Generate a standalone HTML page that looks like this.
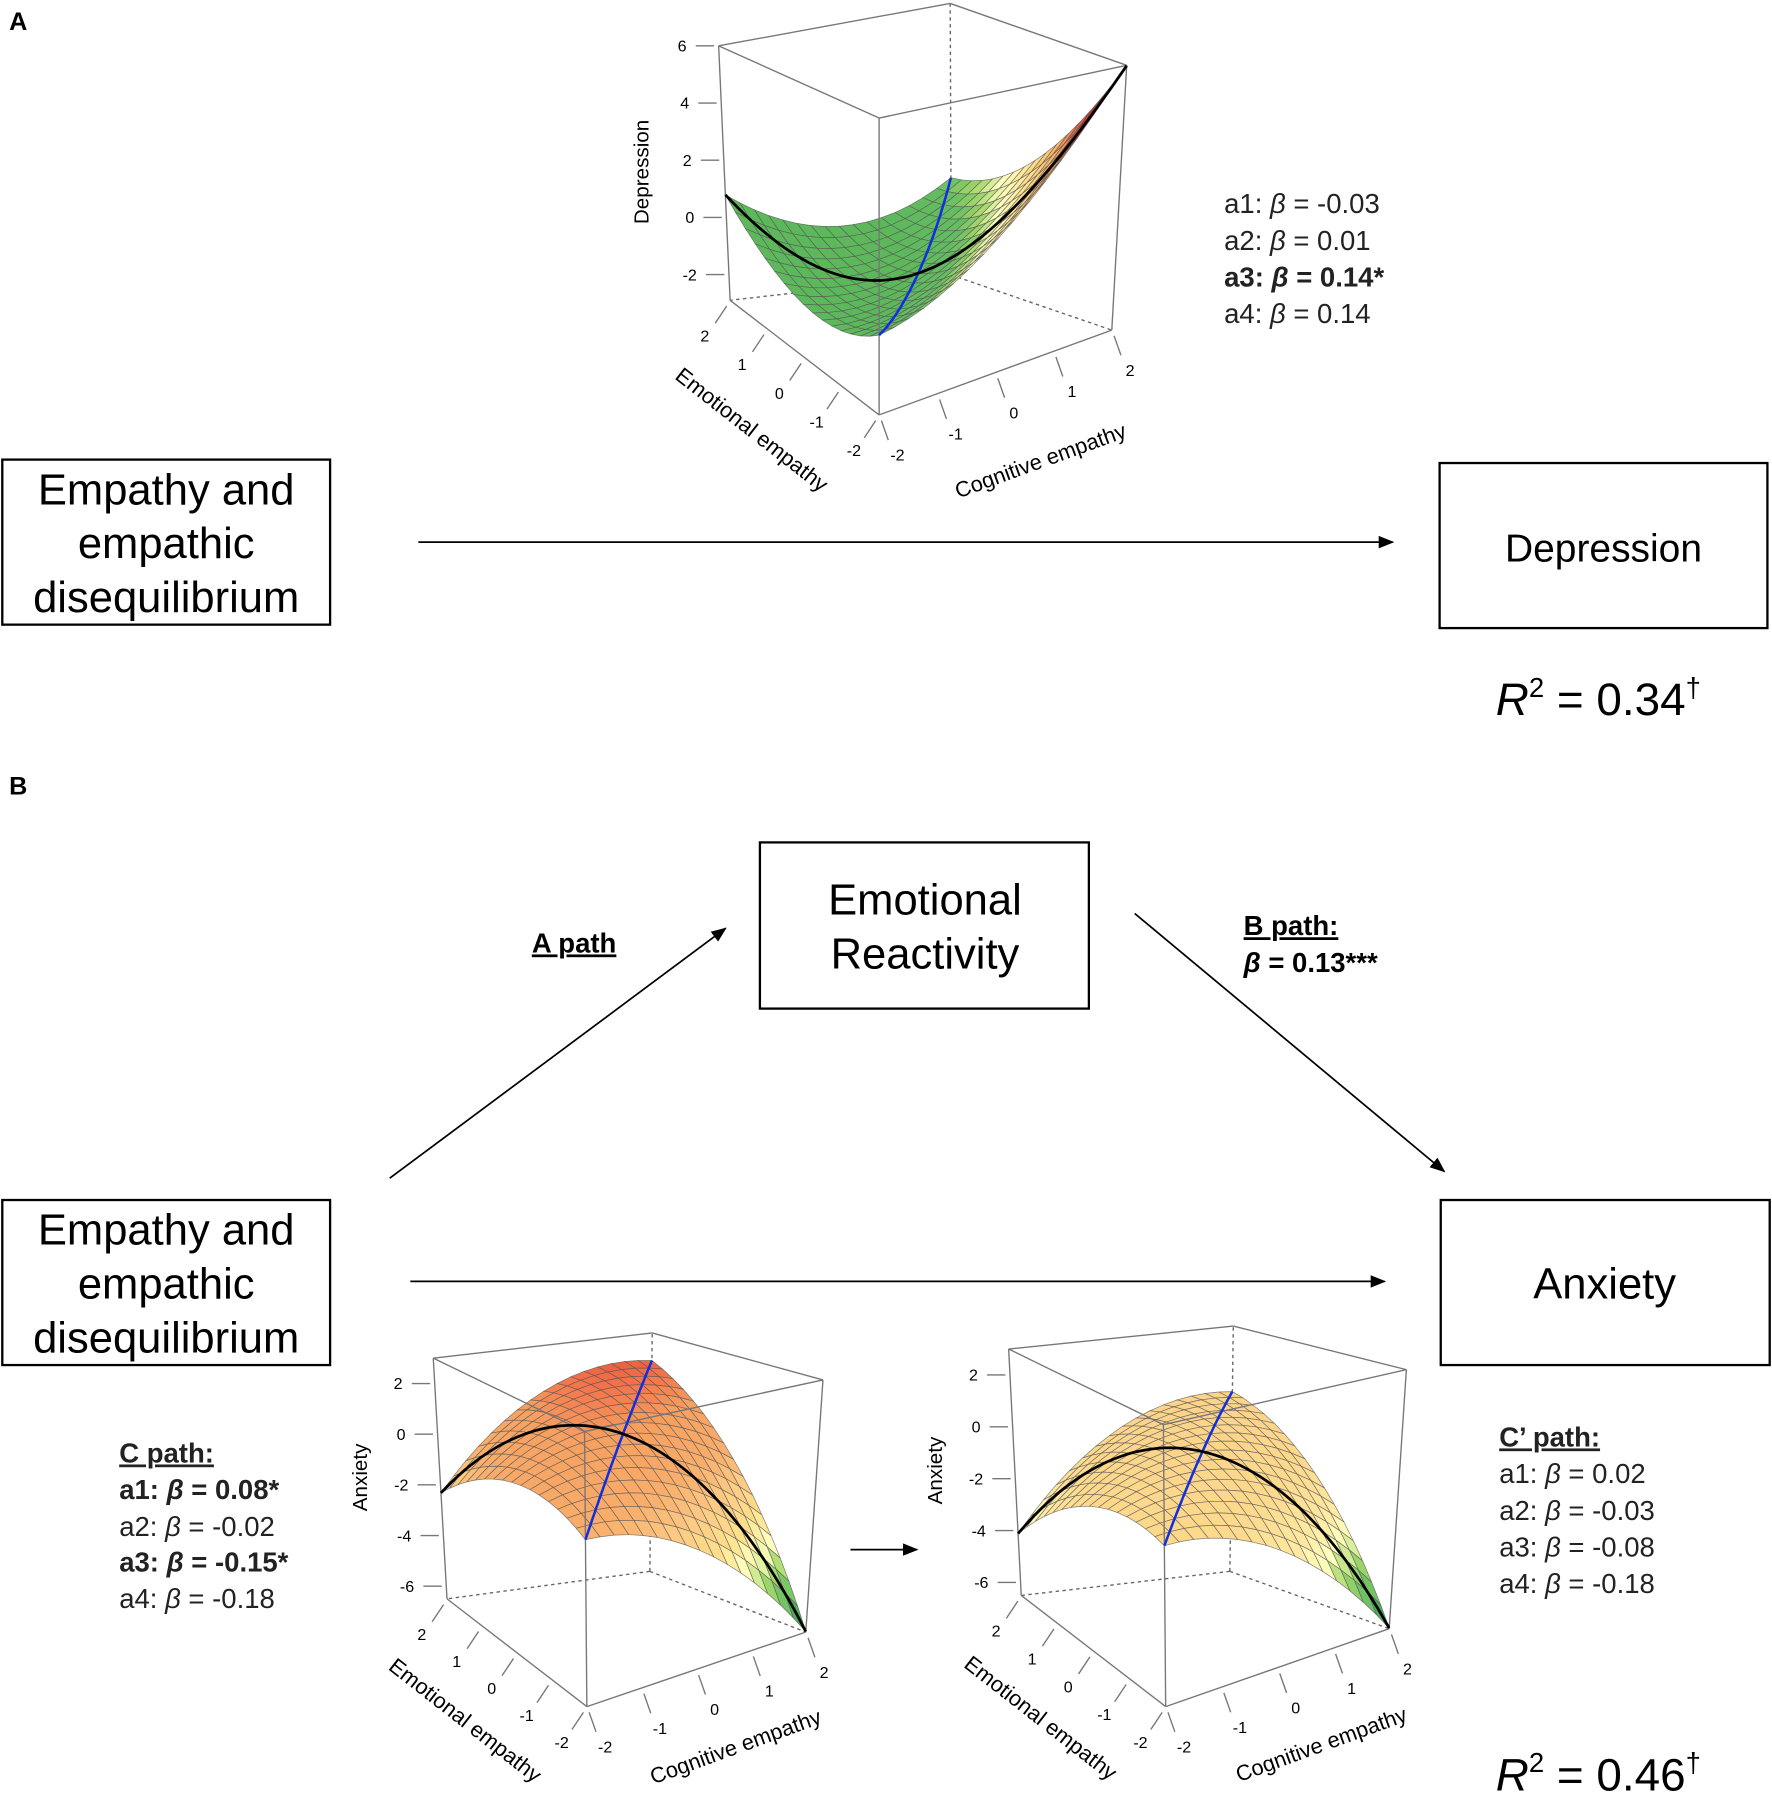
<!DOCTYPE html>
<html><head><meta charset="utf-8">
<style>
html,body{margin:0;padding:0;background:#fff;}
svg{display:block;font-family:"Liberation Sans",Arial,sans-serif;}
</style></head>
<body>
<svg id="fig" width="1772" height="1796" viewBox="0 0 1546 1567" preserveAspectRatio="none" xmlns="http://www.w3.org/2000/svg">
<defs>
<marker id="ah" viewBox="0 0 10 10" refX="9" refY="5" markerWidth="9" markerHeight="9" orient="auto"><path d="M0,1 L10,5 L0,9 z" fill="#000"/></marker>
</defs>
<g>
<text x="8" y="26" font-size="22" font-weight="bold">A</text>
<rect x="2" y="401" width="286" height="144" fill="none" stroke="#000" stroke-width="2"/>
<g font-size="38" text-anchor="middle">
<text x="145" y="440">Empathy and</text><text x="145" y="487">empathic</text><text x="145" y="534">disequilibrium</text></g>
<line x1="365" y1="473" x2="1215" y2="473" stroke="#000" stroke-width="1.5" marker-end="url(#ah)"/>
<rect x="1256" y="404" width="286" height="144" fill="none" stroke="#000" stroke-width="2"/>
<text x="1399" y="490" font-size="34" text-anchor="middle">Depression</text>
<text x="1305" y="624" font-size="40"><tspan font-style="italic">R</tspan><tspan font-size="24" dy="-16">2</tspan><tspan dy="16"> = 0.34</tspan><tspan font-size="24" dy="-16">†</tspan></text>
<g font-size="24" fill="#222">
<text x="1068" y="186">a1: <tspan font-style="italic">β</tspan> = -0.03</text>
<text x="1068" y="218">a2: <tspan font-style="italic">β</tspan> = 0.01</text>
<text x="1068" y="250" font-weight="bold">a3: <tspan font-style="italic">β</tspan> = 0.14*</text>
<text x="1068" y="282">a4: <tspan font-style="italic">β</tspan> = 0.14</text>
</g>
<g id="plotA"></g>
</g>
<g>
<text x="8" y="693" font-size="22" font-weight="bold">B</text>
<rect x="663" y="735" width="287" height="145" fill="none" stroke="#000" stroke-width="2"/>
<g font-size="38" text-anchor="middle">
<text x="807" y="798">Emotional</text><text x="807" y="845">Reactivity</text></g>
<text x="464" y="831" font-size="24" font-weight="bold" text-decoration="underline">A path</text>
<text x="1085" y="816" font-size="24" font-weight="bold" text-decoration="underline">B path:</text>
<text x="1085" y="848" font-size="24" font-weight="bold"><tspan font-style="italic">β</tspan> = 0.13***</text>
<line x1="340" y1="1028" x2="633" y2="810" stroke="#000" stroke-width="1.5" marker-end="url(#ah)"/>
<line x1="990" y1="797" x2="1260" y2="1022" stroke="#000" stroke-width="1.5" marker-end="url(#ah)"/>
<rect x="2" y="1047" width="286" height="144" fill="none" stroke="#000" stroke-width="2"/>
<g font-size="38" text-anchor="middle">
<text x="145" y="1086">Empathy and</text><text x="145" y="1133">empathic</text><text x="145" y="1180">disequilibrium</text></g>
<line x1="358" y1="1118" x2="1208" y2="1118" stroke="#000" stroke-width="1.5" marker-end="url(#ah)"/>
<rect x="1257" y="1047" width="287" height="144" fill="none" stroke="#000" stroke-width="2"/>
<text x="1400" y="1133" font-size="38" text-anchor="middle">Anxiety</text>
<g font-size="24" fill="#222">
<text x="104" y="1276" font-weight="bold" text-decoration="underline">C path:</text>
<text x="104" y="1308" font-weight="bold">a1: <tspan font-style="italic">β</tspan> = 0.08*</text>
<text x="104" y="1340">a2: <tspan font-style="italic">β</tspan> = -0.02</text>
<text x="104" y="1371" font-weight="bold">a3: <tspan font-style="italic">β</tspan> = -0.15*</text>
<text x="104" y="1403">a4: <tspan font-style="italic">β</tspan> = -0.18</text>
</g>
<g font-size="24" fill="#222">
<text x="1308" y="1262" font-weight="bold" text-decoration="underline">C’ path:</text>
<text x="1308" y="1294">a1: <tspan font-style="italic">β</tspan> = 0.02</text>
<text x="1308" y="1326">a2: <tspan font-style="italic">β</tspan> = -0.03</text>
<text x="1308" y="1358">a3: <tspan font-style="italic">β</tspan> =  -0.08</text>
<text x="1308" y="1390">a4: <tspan font-style="italic">β</tspan> = -0.18</text>
</g>
<line x1="742" y1="1352" x2="800" y2="1352" stroke="#000" stroke-width="1.5" marker-end="url(#ah)"/>
<text x="1305" y="1562" font-size="40"><tspan font-style="italic">R</tspan><tspan font-size="24" dy="-16">2</tspan><tspan dy="16"> = 0.46</tspan><tspan font-size="24" dy="-16">†</tspan></text>
<g id="plotB1"></g>
<g id="plotB2"></g>
</g>
</svg>
<script>
// axis tick values
const xyTicks = [-2, -1, 0, 1, 2];
const zTicksA = [-2, 0, 2, 4, 6];
const zTicksB = [-6, -4, -2, 0, 2];
// surface polynomial coefficients [b0, c, e, c^2, c*e, e^2]
const coefA = [-1.04, 0.75, -0.55, 0.34, -0.4375, 0.33];
const coefB1 = [0.8, -0.19, 0.85, -0.35, 0.623, -0.327];
const coefB2 = [-0.1, -0.1025, 0.4875, -0.35, 0.624, -0.326];
// colour stops: z value and colour
const stopsAz = [-1.5, 0, 0.8, 1.6, 2.8, 4.2, 6];
const stopsAc = ['#5cb85a', '#66bd63', '#a6d96a', '#ffffbf', '#fee08b', '#fdae61', '#d73027'];
const stopsB1z = [-6.5, -5.3, -4.3, -3.5, -2.6, -1.5, -0.5, 0.8, 1.6, 2.2];
const stopsB1c = ['#1a9850', '#66bd63', '#a6d96a', '#ffffbf', '#fee08b', '#fdc983', '#f9ad6a', '#f7a060', '#f4744a', '#e8553a'];
const stopsB2z = [-6.5, -5.3, -4.2, -3.5, -2.6, -1.2, 1];
const stopsB2c = ['#1a9850', '#66bd63', '#a6d96a', '#ffffbf', '#fee8a0', '#fdd98b', '#fdd28a'];

const NS = 'http://www.w3.org/2000/svg';
function mk(parent, tag, attrs) {
  const el = document.createElementNS(NS, tag);
  for (const k in attrs) el.setAttribute(k, attrs[k]);
  parent.appendChild(el);
  return el;
}
function hex(c){return [parseInt(c.slice(1,3),16),parseInt(c.slice(3,5),16),parseInt(c.slice(5,7),16)];}
function colorFor(z, zs, cs) {
  if (z <= zs[0]) return cs[0];
  for (let i = 1; i < zs.length; i++) {
    if (z <= zs[i]) {
      const t = (z - zs[i-1]) / (zs[i] - zs[i-1]);
      const a = hex(cs[i-1]), b = hex(cs[i]);
      return 'rgb(' + a.map((v, j) => Math.round(v + (b[j] - v) * t)).join(',') + ')';
    }
  }
  return cs[cs.length - 1];
}
function surf(co, c, e) { return co[0] + co[1]*c + co[2]*e + co[3]*c*c + co[4]*c*e + co[5]*e*e; }

function drawPlot(g, cfg) {
  const zr = cfg.zRange;
  function P(c, e, z) {
    const u = (c + 2) / 4, v = (e + 2) / 4, w = (z - zr[0]) / (zr[1] - zr[0]);
    const lerp = (a, b, t) => [a[0] + (b[0]-a[0])*t, a[1] + (b[1]-a[1])*t];
    const bot = lerp(lerp(cfg.bot[0], cfg.bot[1], u), lerp(cfg.bot[2], cfg.bot[3], u), v);
    const top = lerp(lerp(cfg.top[0], cfg.top[1], u), lerp(cfg.top[2], cfg.top[3], u), v);
    return lerp(bot, top, w);
  }
  const line = (p, q, extra, name) => {
    const l = mk(g, 'line', Object.assign({x1: p[0], y1: p[1], x2: q[0], y2: q[1], stroke: '#777', 'stroke-width': 1.2}, extra || {}));
    
    
    return l;
  };
  const z0 = zr[0], z1 = zr[1];
  const dash = {'stroke-dasharray': '3,3', stroke: '#666'};
  line(P(2,2,z0), P(2,2,z1), dash, 'back-vertical-edge');
  line(P(2,2,z0), P(-2,2,z0), dash, 'back-left-edge');
  line(P(2,2,z0), P(2,-2,z0), dash, 'back-right-edge');
  const N = 16, facets = [];
  for (let i = 0; i < N; i++) for (let j = 0; j < N; j++) {
    const c0 = -2 + 4*i/N, c1 = -2 + 4*(i+1)/N, e0 = -2 + 4*j/N, e1 = -2 + 4*(j+1)/N;
    facets.push({c0, c1, e0, e1, d: c0 + e0});
  }
  facets.sort((a, b) => b.d - a.d);
  for (const f of facets) {
    const pts = [[f.c0,f.e0],[f.c1,f.e0],[f.c1,f.e1],[f.c0,f.e1]].map(([c,e]) => P(c, e, surf(cfg.coef, c, e)));
    const cm = (f.c0+f.c1)/2, em = (f.e0+f.e1)/2;
    const zm = surf(cfg.coef, cm, em) + cfg.tilt * (cm - em);
    const poly = mk(g, 'polygon', {points: pts.map(p => p[0].toFixed(1)+','+p[1].toFixed(1)).join(' '), fill: colorFor(zm, cfg.stopsZ, cfg.stopsC), stroke: '#555', 'stroke-width': 0.6, 'stroke-opacity': 0.75});
    
    
  }
  const edges = [
    [[-2,-2,z0],[-2,-2,z1]], [[-2,2,z0],[-2,2,z1]], [[2,-2,z0],[2,-2,z1]],
    [[-2,-2,z0],[-2,2,z0]], [[-2,-2,z0],[2,-2,z0]],
    [[-2,-2,z1],[-2,2,z1]], [[-2,-2,z1],[2,-2,z1]], [[2,2,z1],[-2,2,z1]], [[2,2,z1],[2,-2,z1]]
  ];
  edges.forEach(ed => line(P(...ed[0]), P(...ed[1]), {}, 'box-edge'));
  const M = 60;
  let blue = '', black = '';
  for (let k = 0; k <= M; k++) {
    const t = -2 + 4*k/M;
    const pb = P(t, t, surf(cfg.coef, t, t));
    const pk = P(t, -t, surf(cfg.coef, t, -t));
    blue += (k ? 'L' : 'M') + pb[0].toFixed(1) + ',' + pb[1].toFixed(1);
    black += (k ? 'L' : 'M') + pk[0].toFixed(1) + ',' + pk[1].toFixed(1);
  }
  const bl = mk(g, 'path', {d: blue, stroke: '#1030e0', 'stroke-width': 2.2, fill: 'none'});
  
  
  const bk = mk(g, 'path', {d: black, stroke: '#000', 'stroke-width': 2.4, fill: 'none'});
  
  
  cfg.zTicks.forEach(z => {
    const p = P(-2, 2, z);
    line([p[0]-20, p[1]], [p[0]-4, p[1]], {}, 'z-tick');
    const t = mk(g, 'text', {x: p[0]-28, y: p[1]+5, 'font-size': 14, 'text-anchor': 'end'});
    
    
    t.textContent = z;
  });
  xyTicks.forEach(v => {
    const pe = P(-2, v, z0);
    line([pe[0]-3, pe[1]+5], [pe[0]-13, pe[1]+20], {}, 'emotional-tick');
    const te = mk(g, 'text', {x: pe[0]-22, y: pe[1]+36, 'font-size': 14, 'text-anchor': 'middle'});
    
    
    te.textContent = v;
    const pc = P(v, -2, z0);
    line([pc[0]+2, pc[1]+5], [pc[0]+8, pc[1]+22], {}, 'cognitive-tick');
    const tc = mk(g, 'text', {x: pc[0]+16, y: pc[1]+40, 'font-size': 14, 'text-anchor': 'middle'});
    
    
    tc.textContent = v;
  });
  const zt = mk(g, 'text', {x: cfg.zTitle[0], y: cfg.zTitle[1], 'font-size': 18, 'text-anchor': 'middle', transform: 'rotate(-90 ' + cfg.zTitle[0] + ' ' + cfg.zTitle[1] + ')'});
  
  
  zt.textContent = cfg.zName;
  const et = mk(g, 'text', {x: cfg.eTitle[0], y: cfg.eTitle[1], 'font-size': 19, 'text-anchor': 'middle', transform: 'rotate(38 ' + cfg.eTitle[0] + ' ' + cfg.eTitle[1] + ')'});
  
  
  et.textContent = 'Emotional empathy';
  const ct = mk(g, 'text', {x: cfg.cTitle[0], y: cfg.cTitle[1], 'font-size': 19, 'text-anchor': 'middle', transform: 'rotate(-20 ' + cfg.cTitle[0] + ' ' + cfg.cTitle[1] + ')'});
  
  
  ct.textContent = 'Cognitive empathy';
}

// box geometry: [front(c-2,e-2), right(c2,e-2), left(c-2,e2), back(c2,e2)]
drawPlot(document.getElementById('plotA'), {
  coef: coefA, zRange: [-2.9, 6], zTicks: zTicksA, stopsZ: stopsAz, stopsC: stopsAc, tilt: 0.6,
  bot: [[767,362],[970,288],[637,262],[830,240]],
  top: [[767,103],[983,57],[627,40],[829,3]],
  zName: 'Depression', zTitle: [566,150], eTitle: [652,380], cTitle: [910,408]
});
drawPlot(document.getElementById('plotB1'), {
  coef: coefB1, zRange: [-6.5, 3], zTicks: zTicksB, stopsZ: stopsB1z, stopsC: stopsB1c, tilt: 0,
  bot: [[512,1489],[703,1424],[390,1395],[567,1371]],
  top: [[510,1249],[718,1204],[378,1185],[569,1163]],
  zName: 'Anxiety', zTitle: [320,1289], eTitle: [402,1506], cTitle: [644,1530]
});
drawPlot(document.getElementById('plotB2'), {
  coef: coefB2, zRange: [-6.5, 3], zTicks: zTicksB, stopsZ: stopsB2z, stopsC: stopsB2c, tilt: 0,
  bot: [[1017,1489],[1212,1421],[891,1392],[1073,1371]],
  top: [[1015,1243],[1227,1195],[880,1177],[1076,1157]],
  zName: 'Anxiety', zTitle: [822,1283], eTitle: [904,1504], cTitle: [1155,1528]
});
</script>
</body></html>
